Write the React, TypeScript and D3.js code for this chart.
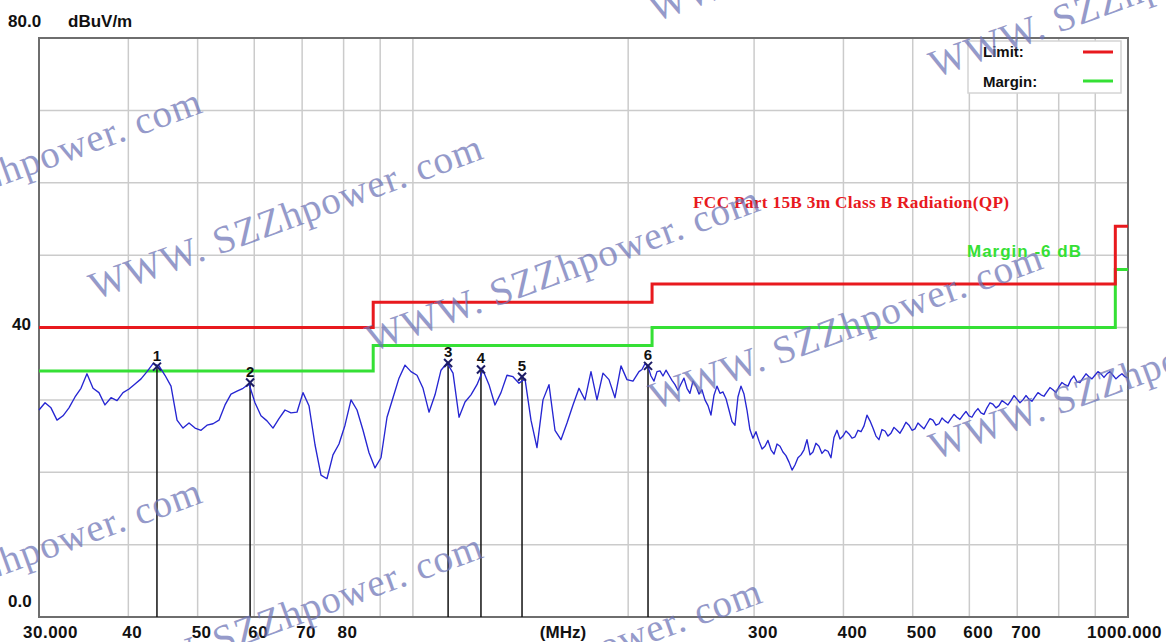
import React from "react";
import * as d3 from "d3";

// Radiated emission scan, 30 MHz – 1 GHz, quasi-peak detector
const traceFreqMHz = [
  30.0, 30.59, 31.18, 31.79, 32.41, 33.04, 33.69, 34.34, 35.01, 35.70,
  36.39, 37.10, 37.83, 38.57, 39.32, 40.09, 40.87, 41.67, 42.48, 43.31,
  44.15, 45.01, 45.89, 46.79, 47.70, 48.63, 49.58, 50.55, 51.53, 52.54,
  53.56, 54.61, 55.67, 56.76, 57.87, 59.00,
  60.14, 61.31, 62.51, 63.73, 64.97, 66.24, 67.53, 68.85, 70.19, 71.56,
  72.96, 74.38, 75.83, 77.31, 78.82, 80.36, 81.93, 83.53, 85.16, 86.82,
  88.51, 90.24, 92.00, 93.79, 95.62, 97.49, 99.39, 101.33, 103.31, 105.32,
  107.38, 109.47, 111.61, 113.79, 116.01, 118.27,
  120.56, 122.91, 125.31, 127.76, 130.25, 132.79, 135.38, 138.02, 140.71, 143.46,
  146.26, 149.11, 152.02, 154.99, 158.01, 161.09, 164.24, 167.44, 170.71, 174.03,
  177.43, 180.89, 184.42, 188.02, 191.69, 195.43, 199.24, 203.13,
  207.09, 209.10, 211.13, 213.18, 215.25, 217.34, 219.45, 221.58, 223.73, 225.90,
  228.10, 230.31, 232.55, 234.81, 237.08, 239.38, 241.7, 244.0, 246.4, 248.8,
  251.2, 253.6, 256.1, 258.6, 261.1, 263.6, 266.2, 268.8, 271.4, 274.0,
  276.7, 279.4, 282.1, 284.8, 287.6, 290.4, 293.2, 296.0, 298.9, 301.8,
  304.8, 307.8, 310.7, 313.7, 316.8, 319.9, 323.0, 326.1, 329.2, 332.4,
  335.7, 339.0, 342.2, 345.5, 348.9, 352.3, 355.7, 359.2, 362.6, 366.1,
  369.7, 373.3, 376.9, 380.6, 384.3, 388.0, 391.8, 395.6, 399.4, 403.3,
  407.2, 411.2, 415.2, 419.2, 423.3, 427.4, 431.5, 435.7, 439.9, 444.2,
  448.5, 452.9, 457.3, 461.7, 466.2, 470.7, 475.3, 479.9, 484.5, 489.2,
  494.0, 498.8, 503.6, 508.5, 513.4, 518.4, 523.4, 528.5, 533.6, 538.8,
  544.1, 549.4, 554.7, 560.1, 565.5, 571.0, 576.5, 582.1, 587.8, 593.5,
  599.2, 605.0, 610.9, 616.8, 622.9, 628.9, 635.0, 641.2, 647.4, 653.7,
  660.0, 666.4, 672.9, 679.4, 686.0, 692.7, 699.4, 706.2, 713.0, 719.9,
  726.9, 733.9, 741.1, 748.3, 755.6, 762.9, 770.3, 777.8, 785.3, 792.9,
  800.6, 808.4, 816.3, 824.2, 832.2, 840.3, 848.4, 856.6, 865.0, 873.4,
  881.8, 890.4, 899.0, 907.7, 916.6, 925.5, 934.5, 943.6, 952.7, 961.9,
  971.3, 980.7, 990.2, 1000,
];

const traceLevel = [
  28.6, 29.6, 28.9, 27.2, 27.8, 28.9, 30.4, 31.6, 33.6, 31.6,
  31.0, 29.3, 30.3, 29.9, 31.0, 31.5, 32.2, 32.9, 33.9, 35.0,
  34.7, 33.4, 31.9, 27.2, 26.1, 26.8, 26.1, 25.8, 26.5, 26.7,
  27.2, 29.3, 30.8, 31.2, 31.6, 32.2,
  29.6, 27.8, 27.1, 26.1, 27.4, 28.6, 28.2, 28.3, 31.0, 29.2,
  23.8, 19.6, 19.1, 22.4, 23.9, 26.5, 30.0, 28.6, 25.8, 22.7,
  20.6, 22.0, 27.6, 30.3, 33.0, 34.8, 33.9, 33.4, 31.6, 28.3,
  30.7, 34.1, 35.1, 33.7, 27.6, 29.7,
  30.7, 32.1, 34.1, 32.1, 29.3, 31.0, 33.4, 33.2, 32.3, 32.9,
  27.2, 23.4, 30.0, 32.1, 25.8, 24.5, 26.8, 29.3, 31.6, 30.0,
  33.9, 30.0, 33.7, 32.8, 30.3, 34.7, 32.8, 32.6,
  33.9, 34.2, 35.0, 34.6, 33.3, 32.6, 33.9, 34.0, 33.3, 34.1,
  33.4, 32.7, 32.1, 31.3, 32.2, 33.0, 31.6, 30.9, 32.6, 31.9,
  30.8, 31.4, 30.0, 29.2, 27.9, 30.6, 31.9, 30.9, 31.1, 30.2,
  28.6, 27.0, 26.5, 30.4, 31.9, 30.8, 28.6, 25.9, 24.7, 25.6,
  24.3, 23.2, 23.6, 24.4, 23.1, 22.5, 23.9, 23.6, 22.8, 22.3,
  21.4, 20.3, 21.0, 22.0, 22.4, 23.1, 24.5, 22.4, 22.8, 24.0,
  23.6, 22.6, 23.1, 22.9, 22.0, 24.8, 25.8, 24.6, 25.0, 25.7,
  25.3, 24.7, 24.9, 25.8, 25.6, 26.4, 27.9, 27.1, 26.1, 25.0,
  24.5, 25.9, 25.7, 25.0, 25.4, 26.2, 25.8, 25.4, 26.1, 26.9,
  26.5, 25.8, 26.0, 26.8, 26.4, 26.0, 26.7, 27.4, 27.2, 26.5,
  26.7, 27.5, 27.1, 26.8, 27.4, 28.0, 27.6, 27.3, 27.9, 28.4,
  27.8, 27.6, 28.3, 28.8, 28.2, 28.0, 28.9, 29.6, 29.4, 28.9,
  29.2, 29.9, 29.6, 29.3, 29.9, 30.6, 30.1, 29.6, 30.0, 30.6,
  30.1, 29.8, 30.4, 31.0, 30.7, 30.5, 31.1, 31.7, 31.4, 31.0,
  31.8, 32.4, 32.1, 31.9, 32.8, 33.3, 32.5, 32.4, 33.0, 33.6,
  33.2, 32.9, 33.4, 33.9, 33.6, 33.1, 33.6, 33.9, 33.4, 32.9,
  33.3, 33.6, 33.2, 33.0,
];

// FCC Part 15B class B limit at 3 m (step boundaries in MHz)
const limitFreq = [30, 88, 216, 960, 1000];
const limitLevel = [40, 43.5, 46, 54, 54];
const marginDb = 6;

// Peak markers
const markerNo = [1, 2, 3, 4, 5, 6];
const markerFreq = [43.86, 59.2, 112.0, 124.5, 142.1, 213.2];
const markerLevel = [34.6, 32.4, 35.1, 34.2, 33.2, 34.7];

// Axis ticks
const gridFreq = [40, 50, 60, 70, 80, 90, 100, 200, 300, 400, 500, 600, 700, 800, 900];
const tickFreq = [40, 50, 60, 70, 80, 300, 400, 500, 600, 700];
const tickText = ["40", "50", "60", "70", "80", "300", "400", "500", "600", "700"];
const gridLevel = [10, 20, 30, 40, 50, 60, 70];

const W = 1166;
const H = 642;
const X0 = 39;
const X1 = 1128;
const Y0 = 617;
const Y1 = 38;

const RED = "#e8191e";
const GREEN = "#35e035";
const BLUE = "#2626d2";
const SANS = "'Liberation Sans', Arial, sans-serif";
const SERIF = "'Liberation Serif', 'Times New Roman', serif";

const stamps: [number, number][] = [
  [-186, 254], [95, 300], [372, 352], [655, 410], [935, 460],
  [655, 22], [935, 78],
  [-186, 644], [95, 699], [374, 744],
];

export default function App() {
  const x = d3.scaleLog().domain([30, 1000]).range([X0, X1]);
  const y = d3.scaleLinear().domain([0, 80]).range([Y0, Y1]);

  const n = Math.min(traceFreqMHz.length, traceLevel.length);
  const pts = d3.range(n).map((i) => [traceFreqMHz[i], traceLevel[i]] as [number, number]);
  const trace = d3
    .line<[number, number]>()
    .x((d) => x(d[0]))
    .y((d) => y(d[1]))(pts) as string;

  const step = d3
    .line<number>()
    .curve(d3.curveStepAfter)
    .x((_, i) => x(limitFreq[i]));
  const limitPath = step.y((v) => y(v))(limitLevel) as string;
  const marginPath = step.y((v) => y(v - marginDb))(limitLevel) as string;

  const lbl = { fontFamily: SANS, fontWeight: 700, fontSize: 17, fill: "#111" } as const;

  return (
    <svg
      width={W}
      height={H}
      style={{ position: "absolute", left: 0, top: 0, display: "block", background: "#fff" }}
    >
      <rect x={0} y={0} width={W} height={H} fill="#fff" />

      {/* grid */}
      {gridFreq.map((f) => (
        <line key={"gv" + f} x1={x(f)} x2={x(f)} y1={Y1} y2={Y0} stroke="#cbcbcb" strokeWidth={1.5} />
      ))}
      {gridLevel.map((v) => (
        <line key={"gh" + v} x1={X0} x2={X1} y1={y(v)} y2={y(v)} stroke="#cbcbcb" strokeWidth={1.5} />
      ))}

      {/* frame */}
      <rect x={X0} y={Y1} width={X1 - X0} height={Y0 - Y1} fill="none" stroke="#6e6e6e" strokeWidth={2} />

      {/* axis labels */}
      <text x={8} y={27} {...lbl}>80.0</text>
      <text x={68} y={27} {...lbl}>dBuV/m</text>
      <text x={12} y={330} {...lbl}>40</text>
      <text x={8} y={607} {...lbl}>0.0</text>

      <text x={x(30) - 16} y={638} {...lbl} letterSpacing={0.5}>30.000</text>
      {tickFreq.map((f, i) => (
        <text key={"t" + f} x={x(f) - 6} y={638} {...lbl} letterSpacing={0.5}>{tickText[i]}</text>
      ))}
      <text x={x(150) + 1} y={638} {...lbl}>(MHz)</text>
      <text x={x(1000) + 34} y={638} textAnchor="end" {...lbl} letterSpacing={0.5}>1000.000</text>

      {/* limit and margin */}
      <path d={marginPath} fill="none" stroke={GREEN} strokeWidth={3} />
      <path d={limitPath} fill="none" stroke={RED} strokeWidth={3} />

      {/* marker drop lines */}
      {markerNo.map((m, i) => (
        <line key={"ml" + m} x1={x(markerFreq[i])} x2={x(markerFreq[i])} y1={y(markerLevel[i])} y2={Y0} stroke="#111" strokeWidth={1.5} />
      ))}

      {/* measured trace */}
      <path d={trace} fill="none" stroke={BLUE} strokeWidth={1.35} strokeLinejoin="round" />

      {/* markers */}
      {markerNo.map((m, i) => {
        const mx = x(markerFreq[i]);
        const my = y(markerLevel[i]);
        return (
          <g key={"m" + m}>
            <line x1={mx - 4} x2={mx + 4} y1={my - 4} y2={my + 4} stroke="#1c1c66" strokeWidth={2} />
            <line x1={mx - 4} x2={mx + 4} y1={my + 4} y2={my - 4} stroke="#1c1c66" strokeWidth={2} />
            <text x={mx} y={my - 6} textAnchor="middle" fontFamily={SANS} fontWeight={700} fontSize={15} fill="#111">{m}</text>
          </g>
        );
      })}

      {/* annotations */}
      <text x={693} y={208} fontFamily={SERIF} fontWeight={700} fontSize={17.3} fill={RED} letterSpacing={0.3}>
        FCC Part 15B 3m Class B Radiation(QP)
      </text>
      <text x={967} y={257} fontFamily={SANS} fontWeight={700} fontSize={17} fill={GREEN} letterSpacing={1}>Margin -6 dB</text>

      {/* legend */}
      <rect x={968} y={41} width={153} height={52} fill="#fff" stroke="#d4d4d4" strokeWidth={1.5} />
      <text x={983} y={57} fontFamily={SANS} fontWeight={700} fontSize={15} fill="#111">Limit:</text>
      <text x={983} y={87} fontFamily={SANS} fontWeight={700} fontSize={15} fill="#111">Margin:</text>
      <line x1={1083} x2={1113} y1={52} y2={52} stroke={RED} strokeWidth={3} />
      <line x1={1083} x2={1113} y1={81} y2={81} stroke={GREEN} strokeWidth={3} />

      {/* site stamp */}
      {stamps.map(([sx, sy], i) => (
        <text
          key={"s" + i}
          transform={`translate(${sx},${sy}) rotate(-20)`}
          fontFamily={SERIF}
          fontSize={39}
          letterSpacing={1}
          fill="#6d74b6"
          opacity={0.72}
        >
          WWW. SZZhpower. com
        </text>
      ))}
    </svg>
  );
}
